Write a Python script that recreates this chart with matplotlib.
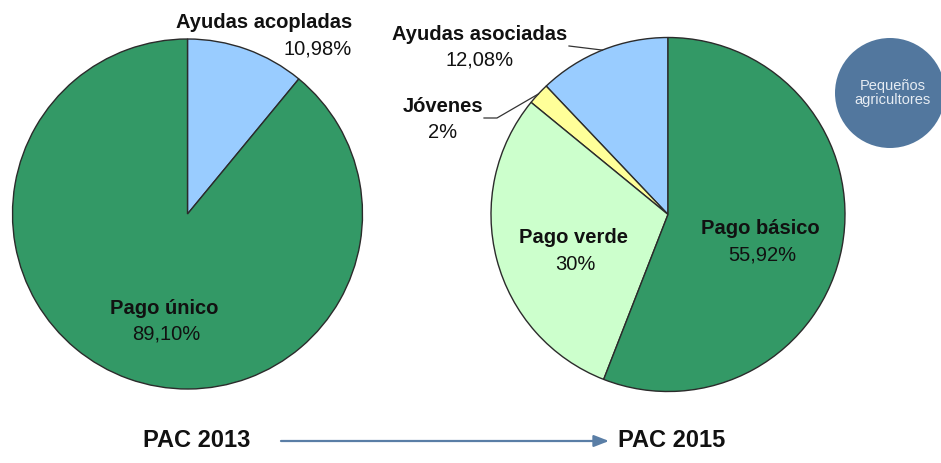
import numpy as np
import matplotlib
matplotlib.use("Agg")
import matplotlib.pyplot as plt
from matplotlib.patches import Circle, FancyArrowPatch

# ---- data ----
left_labels = ['Ayudas acopladas', 'Pago único']
left_values = [10.98, 89.10]
right_labels = ['Ayudas asociadas', 'Jóvenes', 'Pago verde', 'Pago básico']
right_values = [12.08, 2, 30, 55.92]
titles = ['PAC 2013', 'PAC 2015']
bubble_text = 'Pequeños\nagricultores'


def pct(v):
    if float(v).is_integer():
        return f"{int(v)}%"
    return f"{v:.2f}".replace('.', ',') + '%'


W, H = 941, 464
plt.rcParams['font.family'] = ['Liberation Sans', 'DejaVu Sans']

fig = plt.figure(figsize=(W / 100, H / 100), dpi=100)
ax = fig.add_axes([0, 0, 1, 1])


def Y(py):
    return H - py


edge = dict(edgecolor='#2b2b2b', linewidth=1.0)
lw, _ = ax.pie(left_values, colors=['#99CCFF', '#339966'], startangle=90,
               counterclock=False, center=(187.5, Y(215)), radius=175,
               wedgeprops=edge)
rw, _ = ax.pie(right_values, colors=['#99CCFF', '#FFFF99', '#CCFFCC', '#339966'],
               startangle=90, counterclock=True, center=(668, Y(215.5)),
               radius=177, wedgeprops=edge)

ax.set_xlim(0, W)
ax.set_ylim(0, H)
ax.set_aspect('equal')
ax.axis('off')

lab = dict(fontsize=14.5, fontweight='bold', color='#111111', va='center')
val = dict(fontsize=14.5, color='#111111', va='center')

# left pie labels
ax.text(352, Y(23), left_labels[0], ha='right', **lab)
ax.text(352, Y(49), pct(left_values[0]), ha='right', **val)
ax.text(164, Y(308), left_labels[1], ha='center', **lab)
ax.text(166, Y(334), pct(left_values[1]), ha='center', **val)

# right pie labels
ax.text(480, Y(34), right_labels[0], ha='center', **lab)
ax.text(480, Y(60), pct(right_values[0]), ha='center', **val)
ax.text(443, Y(106), right_labels[1], ha='center', **lab)
ax.text(443, Y(132), pct(right_values[1]), ha='center', **val)
ax.text(574, Y(238), right_labels[2], ha='center', **lab)
ax.text(575, Y(264), pct(right_values[2]), ha='center', **val)
ax.text(760, Y(229), right_labels[3], ha='center', **lab)
ax.text(762, Y(255), pct(right_values[3]), ha='center', **val)


def mid_point(w):
    a = np.deg2rad((w.theta1 + w.theta2) / 2)
    return w.center[0] + w.r * np.cos(a), w.center[1] + w.r * np.sin(a)


# leader lines
mx, my = mid_point(rw[0])
ax.plot([569, mx], [Y(47), my], color='#333333', lw=0.9)
mx, my = mid_point(rw[1])
ax.plot([484, 497, mx], [Y(119), Y(119), my], color='#333333', lw=0.9)

# bubble
ax.add_patch(Circle((890, Y(94)), 55, facecolor='#52779E', edgecolor='none'))
ax.text(893, Y(93), bubble_text, ha='center', va='center', fontsize=10.5,
        color='#E6ECF3', linespacing=1.0)

# bottom titles and arrow
ax.text(197, Y(441), titles[0], ha='center', va='center', fontsize=17,
        fontweight='bold', color='#111111')
ax.text(672, Y(441), titles[1], ha='center', va='center', fontsize=17,
        fontweight='bold', color='#111111')
ax.add_patch(FancyArrowPatch((281, Y(442)), (609, Y(442)),
                             arrowstyle='-|>,head_length=9,head_width=3.5',
                             color='#5A7EA6', lw=1.6, shrinkA=0, shrinkB=0))

fig.savefig('out.png', dpi=100)
